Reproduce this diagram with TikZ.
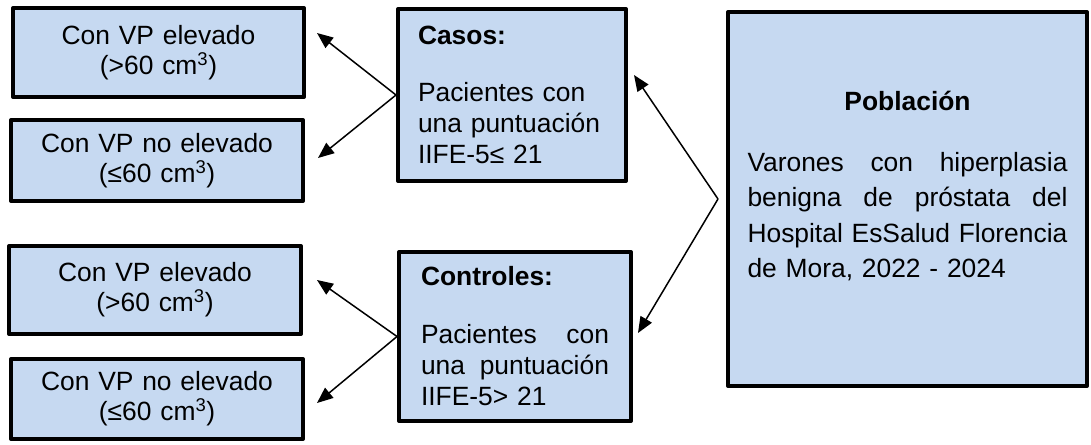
\documentclass[tikz,border=0pt]{standalone}
\usepackage{fontspec}
\setmainfont{Liberation Sans}
\usetikzlibrary{arrows.meta}
\definecolor{cajaazul}{RGB}{198,217,241}

\begin{document}
\begin{tikzpicture}[
	x=1pt, y=-1pt,
	caja/.style={draw, line width=4pt, line join=round, fill=cajaazul, inner sep=0pt},
	vp/.style={caja, text width=270pt, align=center, font=\fontsize{26.4}{30}\selectfont},
	grupo/.style={caja, text width=188pt, align=left, font=\fontsize{26.4}{31}\selectfont},
	flecha/.style={line width=1.5pt, -{Triangle[length=16pt,width=13pt]}}]
\useasboundingbox (0,0) rectangle (1091,444);
\node[vp, minimum width=291pt, minimum height=89pt] (a1) at (158.5,52.5) {Con VP elevado\\(>60 cm\textsuperscript{3})};
\node[vp, minimum width=292pt, minimum height=81pt] (a2) at (157,160.5) {Con VP no elevado\\(≤60 cm\textsuperscript{3})};
\node[vp, minimum width=292pt, minimum height=88pt] (b1) at (155,290) {Con VP elevado\\(>60 cm\textsuperscript{3})};
\node[vp, minimum width=292pt, minimum height=80pt] (b2) at (157,399) {Con VP no elevado\\(≤60 cm\textsuperscript{3})};
\node[grupo, minimum width=228pt, minimum height=172pt] (casos) at (512,95)
	{\textbf{Casos:}\\[26pt]Pacientes con\\una puntuación\\IIFE-5≤ 21};
\node[grupo, minimum width=232pt, minimum height=169pt] (controles) at (515,336.5)
	{\textbf{Controles:}\\[27pt]Pacientes\hfill con\\una\hfill puntuación\\IIFE-5> 21};
\node[caja, minimum width=359pt, minimum height=374pt, text width=320pt, align=left,
	text depth=197pt, font=\fontsize{26.4}{35.5}\selectfont] (pob) at (907.5,199)
	{\hfill\textbf{Población}\hfill\null\\[25.5pt]Varones\hfill con\hfill hiperplasia\\benigna\hfill de\hfill próstata\hfill del\\Hospital EsSalud Florencia\\de Mora, 2022 - 2024};
\coordinate (pobla) at ([xshift=-8pt]pob.west);
\draw[flecha] (casos.west) -- ([xshift=11pt,yshift=19.5pt]a1.east);
\draw[flecha] (casos.west) -- ([xshift=13pt,yshift=2.5pt]a2.east);
\draw[flecha] (controles.west) -- ([xshift=14pt,yshift=10pt]b1.east);
\draw[flecha] (controles.west) -- ([xshift=12pt,yshift=-4pt]b2.east);
\draw[flecha] (pobla) -- ([xshift=6pt,yshift=20pt]casos.east);
\draw[flecha] (pobla) -- ([xshift=5pt,yshift=3.5pt]controles.east);
\end{tikzpicture}
\end{document}
